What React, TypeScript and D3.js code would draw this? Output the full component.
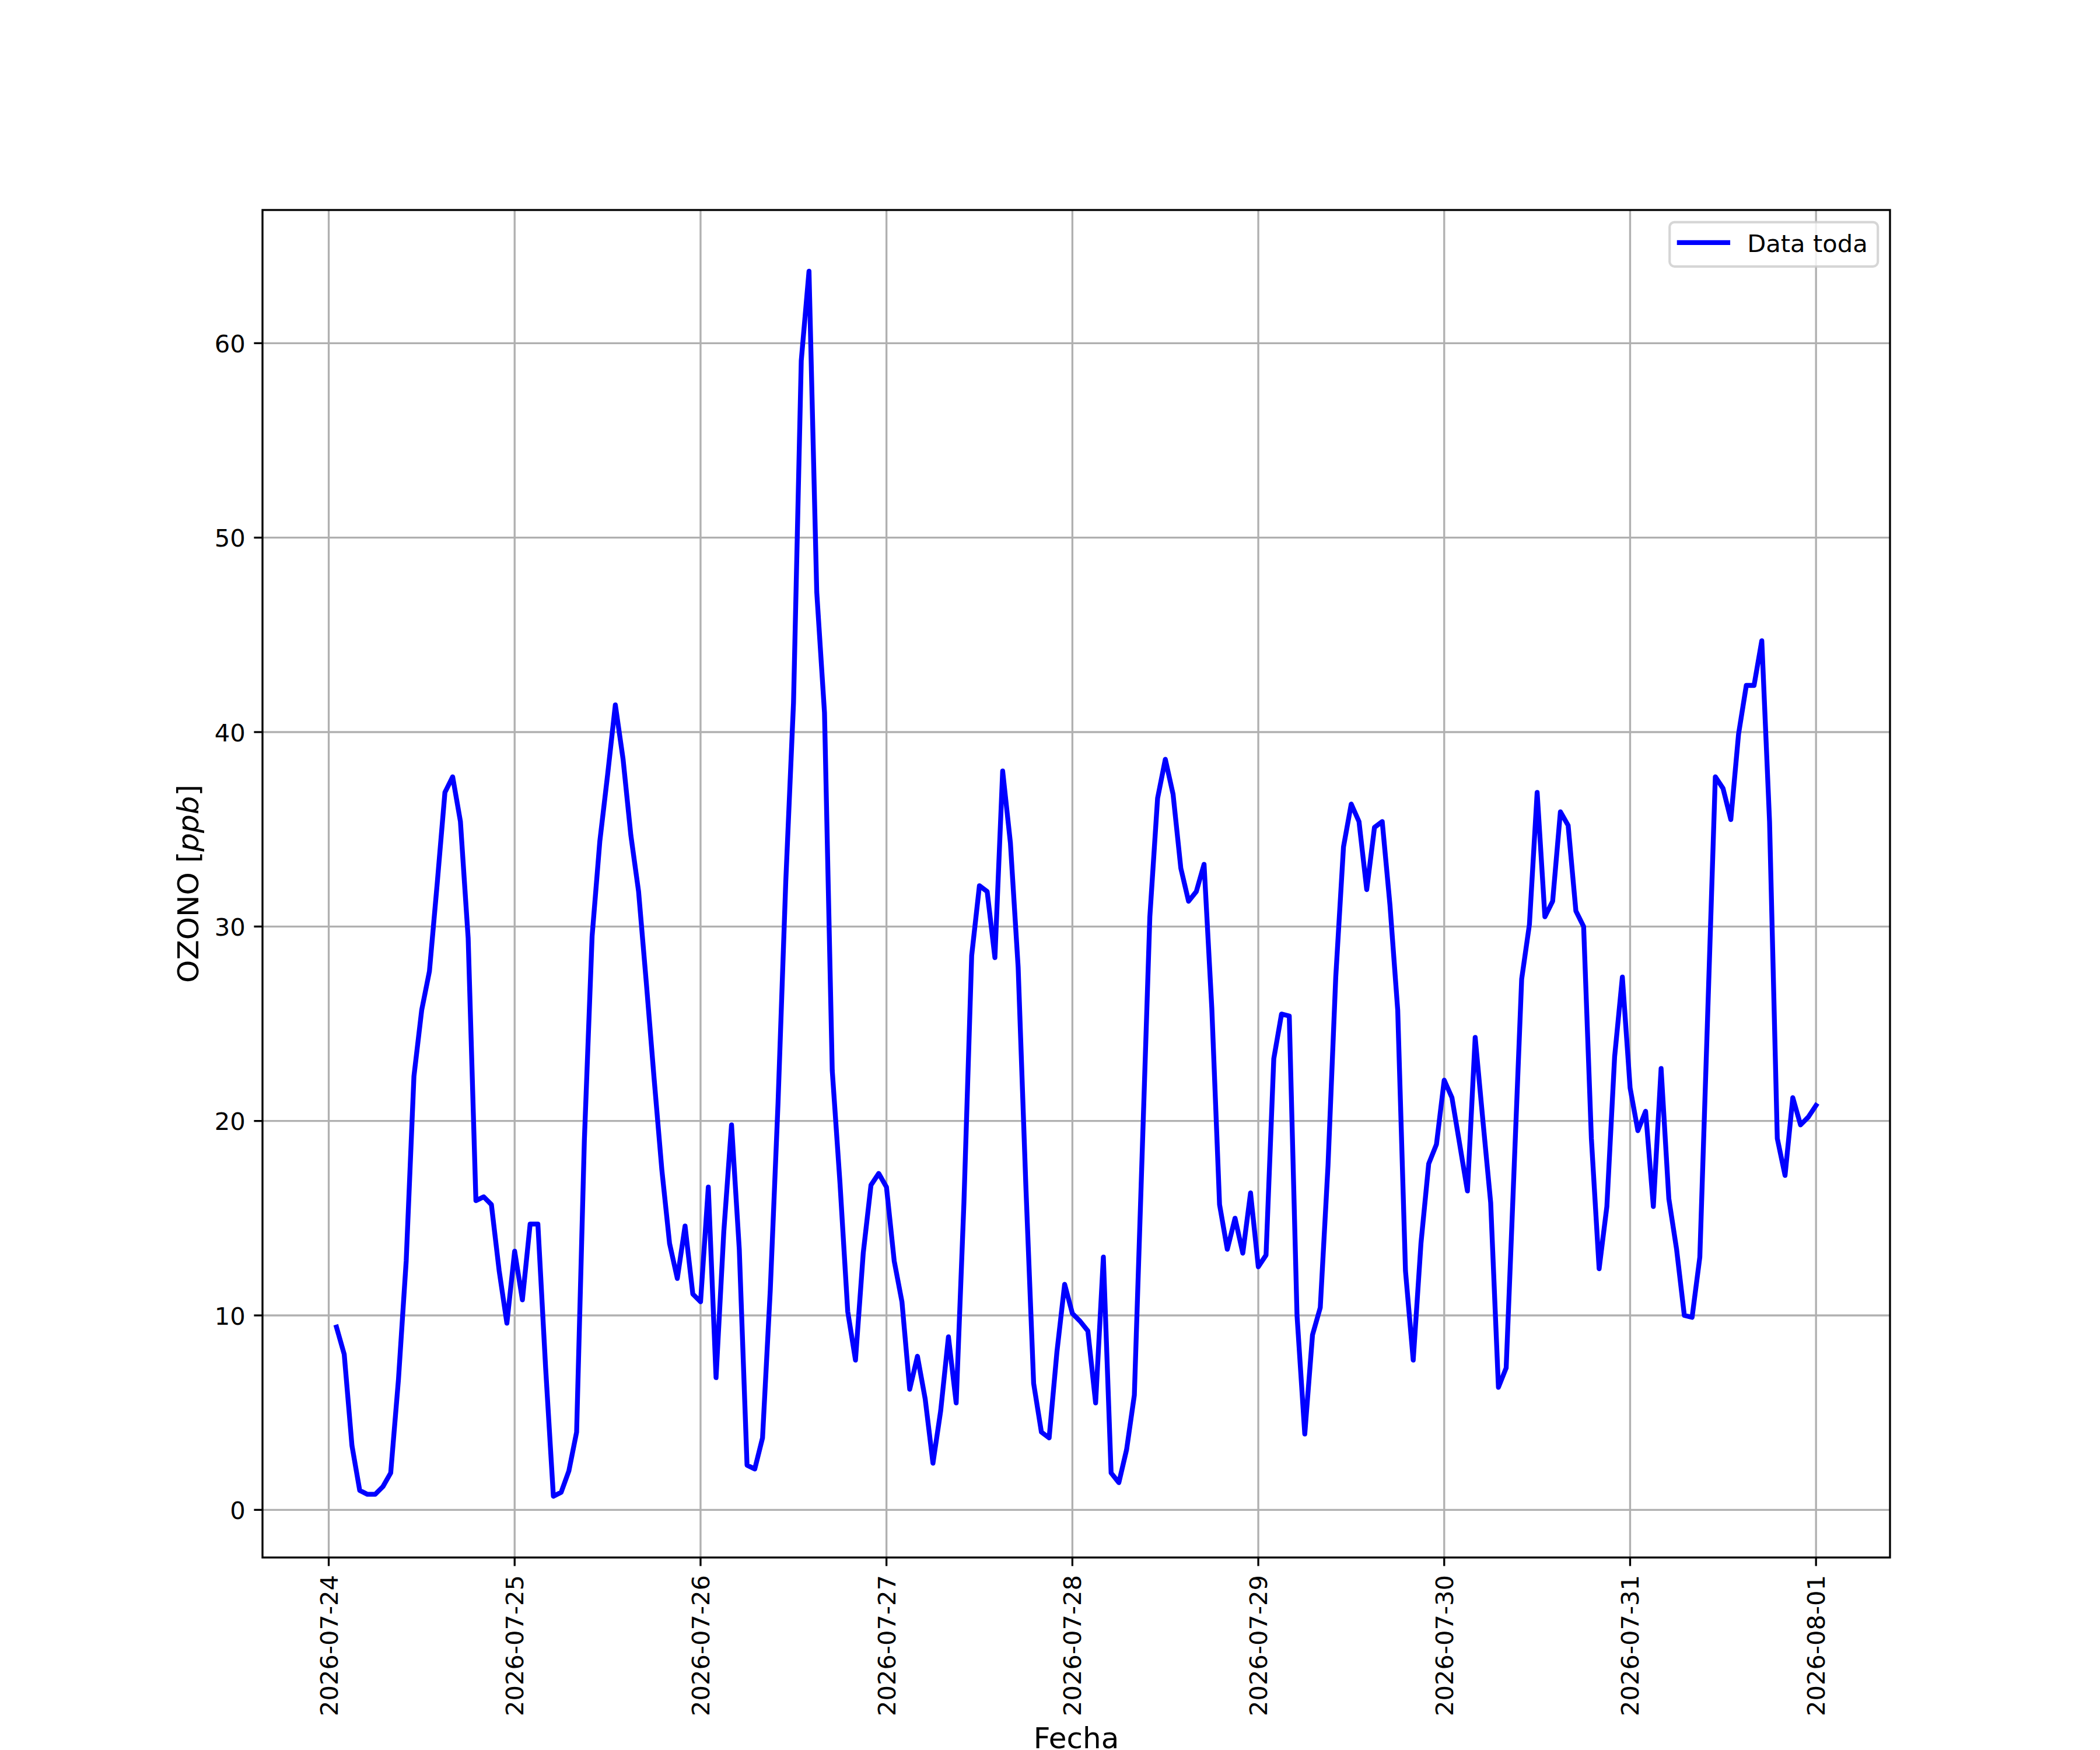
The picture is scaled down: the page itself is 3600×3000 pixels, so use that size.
import * as React from "react";
import { scaleUtc, scaleLinear, line as d3Line, extent, utcDay, utcFormat, utcHour } from "d3";

// hourly ozone readings [ppb], one array per day, starting 01:00 of each day
const jul24 = [9.4, 8.0, 3.3, 1.0, 0.8, 0.8, 1.2, 1.9, 6.7, 12.8, 22.3, 25.7, 27.7, 32.2, 36.9, 37.7, 35.4, 29.4, 15.9, 16.1, 15.7, 12.3, 9.6, 13.3];
const jul25 = [10.8, 14.7, 14.7, 7.3, 0.7, 0.9, 2.0, 4.0, 19.0, 29.5, 34.4, 37.8, 41.4, 38.6, 34.7, 31.8, 27.1, 22.2, 17.5, 13.7, 11.9, 14.6, 11.1, 10.7];
const jul26 = [16.6, 6.8, 14.3, 19.8, 13.4, 2.3, 2.1, 3.7, 11.3, 20.9, 32.3, 41.5, 59.1, 63.7, 47.2, 41.0, 22.6, 16.8, 10.2, 7.7, 13.2, 16.7, 17.3, 16.6];
const jul27 = [12.8, 10.7, 6.2, 7.9, 5.7, 2.4, 5.1, 8.9, 5.5, 15.8, 28.5, 32.1, 31.8, 28.4, 38.0, 34.3, 27.9, 16.6, 6.5, 4.0, 3.7, 8.1, 11.6, 10.1];
const jul28 = [9.7, 9.2, 5.5, 13.0, 1.9, 1.4, 3.1, 5.9, 18.2, 30.5, 36.6, 38.6, 36.8, 33.0, 31.3, 31.8, 33.2, 25.8, 15.7, 13.4, 15.0, 13.2, 16.3, 12.5];
const jul29 = [13.1, 23.2, 25.5, 25.4, 10.0, 3.9, 9.0, 10.4, 17.7, 27.4, 34.1, 36.3, 35.4, 31.9, 35.1, 35.4, 31.1, 25.7, 12.3, 7.7, 13.7, 17.8, 18.8, 22.1];
const jul30 = [21.2, 18.8, 16.4, 24.3, 20.0, 15.8, 6.3, 7.3, 17.3, 27.3, 30.1, 36.9, 30.5, 31.3, 35.9, 35.2, 30.8, 30.0, 19.1, 12.4, 15.6, 23.3, 27.4, 21.7];
const jul31 = [19.5, 20.5, 15.6, 22.7, 16.0, 13.4, 10.0, 9.9, 13.0, 25.3, 37.7, 37.1, 35.5, 39.9, 42.4, 42.4, 44.7, 35.4, 19.1, 17.2, 21.2, 19.8, 20.2, 20.8];

const ozono = [...jul24, ...jul25, ...jul26, ...jul27, ...jul28, ...jul29, ...jul30, ...jul31];
const startTime = new Date(Date.UTC(2026, 6, 24, 1));
const yTicks = [0, 10, 20, 30, 40, 50, 60];

const W = 3600;
const H = 3000;
const margin = { left: 450, right: 360, top: 360, bottom: 330 };
const fs = 41.67; // 10pt @ 300dpi
const fsLabel = 50; // 12pt
const font = "DejaVu Sans";

interface Punto {
  date: Date;
  value: number;
}

const App = () => {
  const data: Punto[] = ozono.map((v, i) => ({ date: utcHour.offset(startTime, i), value: v }));

  const [t0, t1] = extent(data, d => d.date) as [Date, Date];
  const span = +t1 - +t0;
  const [vMin, vMax] = extent(data, d => d.value) as [number, number];
  const vPad = (vMax - vMin) * 0.05;

  const x = scaleUtc()
    .domain([new Date(+t0 - span * 0.05), new Date(+t1 + span * 0.05)])
    .range([margin.left, W - margin.right]);
  const y = scaleLinear()
    .domain([vMin - vPad, vMax + vPad])
    .range([H - margin.bottom, margin.top]);

  const line = d3Line<Punto>()
    .x(d => x(d.date))
    .y(d => y(d.value));

  const xTicks = utcDay.range(utcDay.floor(t0), utcDay.offset(utcDay.floor(t1), 1));
  const fmt = utcFormat("%Y-%m-%d");

  const left = margin.left;
  const right = W - margin.right;
  const top = margin.top;
  const bottom = H - margin.bottom;

  // legend box (upper right)
  const lgR = right - 20.8;
  const lgT = top + 20.8;
  const lgW = 357;
  const lgH = 76;

  return (
    <div style={{ position: "absolute", left: 0, top: 0 }}>
      <svg width={W} height={H} style={{ display: "block", background: "white" }} fontFamily={font}>
        <rect x={0} y={0} width={W} height={H} fill="white" />
        <defs>
          <clipPath id="plot">
            <rect x={left} y={top} width={right - left} height={bottom - top} />
          </clipPath>
        </defs>
        {/* grid */}
        <g stroke="#b0b0b0" strokeWidth={3.33}>
          {xTicks.map(t => (
            <line key={+t} x1={x(t)} x2={x(t)} y1={top} y2={bottom} />
          ))}
          {yTicks.map(v => (
            <line key={v} x1={left} x2={right} y1={y(v)} y2={y(v)} />
          ))}
        </g>
        <path
          d={line(data) || ""}
          fill="none"
          stroke="#0000ff"
          strokeWidth={8.33}
          strokeLinejoin="round"
          strokeLinecap="square"
          clipPath="url(#plot)"
        />
        {/* spines */}
        <rect x={left} y={top} width={right - left} height={bottom - top} fill="none" stroke="black" strokeWidth={3.33} />
        {/* y axis */}
        <g>
          {yTicks.map(v => (
            <g key={v}>
              <line x1={left - 14.6} x2={left} y1={y(v)} y2={y(v)} stroke="black" strokeWidth={3.33} />
              <text x={left - 29.2} y={y(v) + 15.5} textAnchor="end" fontSize={fs}>
                {v}
              </text>
            </g>
          ))}
        </g>
        {/* x axis */}
        <g>
          {xTicks.map(t => (
            <g key={+t}>
              <line x1={x(t)} x2={x(t)} y1={bottom} y2={bottom + 14.6} stroke="black" strokeWidth={3.33} />
              <text
                transform={`translate(${x(t) + 15},${bottom + 30}) rotate(-90)`}
                textAnchor="end"
                fontSize={fs}
              >
                {fmt(t)}
              </text>
            </g>
          ))}
        </g>
        <text x={(left + right) / 2} y={2997} textAnchor="middle" fontSize={fsLabel}>
          Fecha
        </text>
        <text transform={`translate(340,${(top + bottom) / 2}) rotate(-90)`} textAnchor="middle" fontSize={fsLabel}>
          OZONO [<tspan fontStyle="italic">ppb</tspan>]
        </text>
        {/* legend */}
        <g>
          <rect
            x={lgR - lgW}
            y={lgT}
            width={lgW}
            height={lgH}
            rx={8.3}
            fill="white"
            fillOpacity={0.8}
            stroke="#cccccc"
            strokeOpacity={0.8}
            strokeWidth={4.17}
          />
          <line
            x1={lgR - lgW + 16.7}
            x2={lgR - lgW + 16.7 + 83}
            y1={lgT + lgH / 2 - 3}
            y2={lgT + lgH / 2 - 3}
            stroke="#0000ff"
            strokeWidth={8.33}
            strokeLinecap="square"
          />
          <text x={lgR - lgW + 16.7 + 83 + 33.3} y={lgT + 51} fontSize={fs}>
            Data toda
          </text>
        </g>
      </svg>
    </div>
  );
};

export default App;
